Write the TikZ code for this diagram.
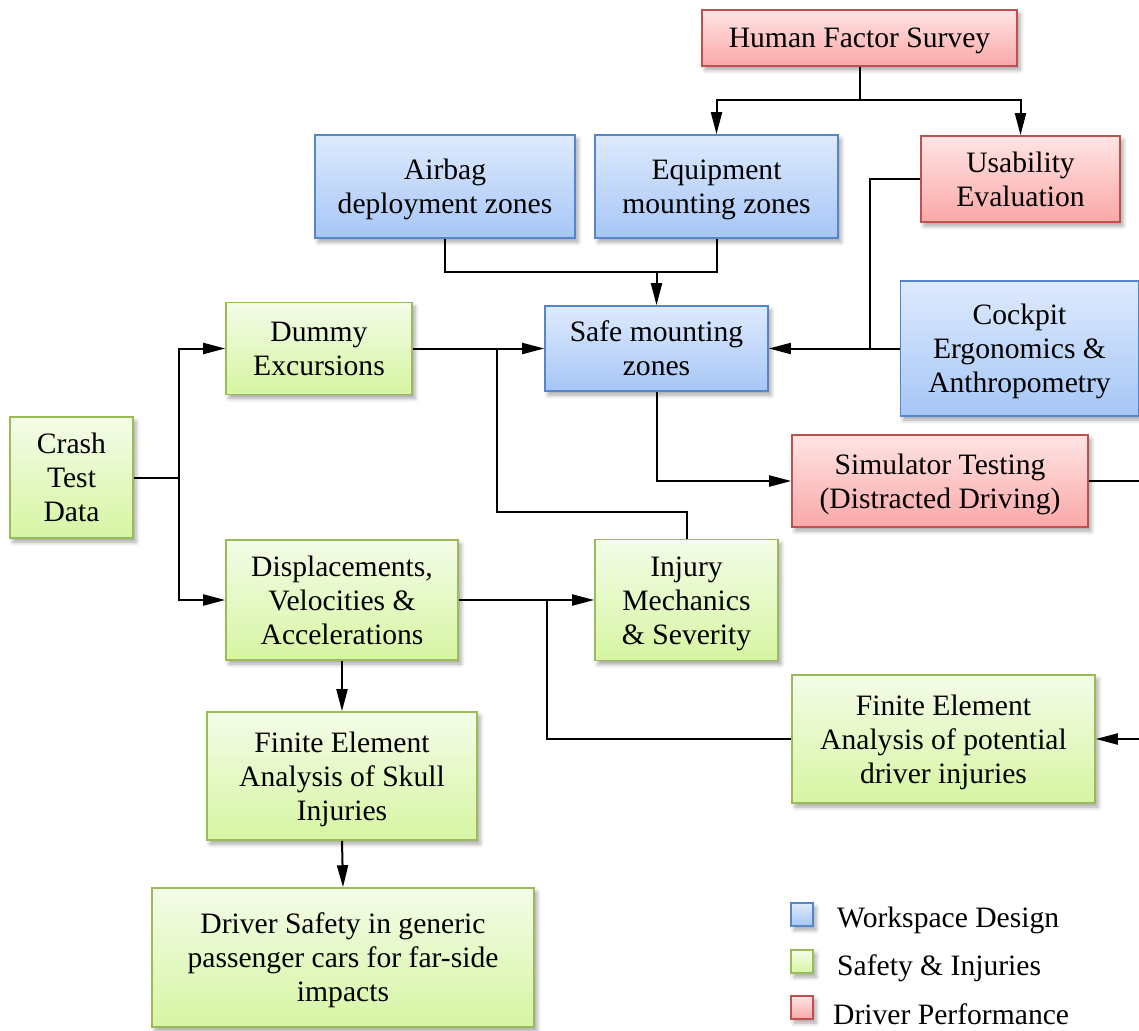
\documentclass[tikz,border=0pt]{standalone}
\usepackage{fontspec}
\setmainfont{Liberation Serif}
\usetikzlibrary{arrows.meta,shadows.blur}

\definecolor{bluetop}{RGB}{222,234,253}
\definecolor{bluebot}{RGB}{166,198,246}
\definecolor{blueline}{RGB}{84,134,201}
\definecolor{greentop}{RGB}{244,252,232}
\definecolor{greenbot}{RGB}{214,245,162}
\definecolor{greenline}{RGB}{155,187,89}
\definecolor{redtop}{RGB}{255,228,228}
\definecolor{redbot}{RGB}{250,168,168}
\definecolor{redline}{RGB}{192,80,77}

\newcommand\boxfont{\fontsize{29.6}{34}\selectfont}
% full ascender height for the first line of a box text
\newcommand\ts{\rule{0pt}{26.4pt}}

\tikzset{
  box/.style={rectangle, inner sep=0pt, line width=1.6pt, align=center,
    font=\boxfont,
    % full descender depth below the last line
    execute at end node={\rule[-6.4pt]{0pt}{6.4pt}},
    blur shadow={shadow xshift=3pt, shadow yshift=-4pt,
                 shadow blur radius=4pt, shadow opacity=35}},
  wsbox/.style={box, draw=blueline, top color=bluetop, bottom color=bluebot},
  sibox/.style={box, draw=greenline, top color=greentop, bottom color=greenbot},
  dpbox/.style={box, draw=redline, top color=redtop, bottom color=redbot},
  legbox/.style={rectangle, inner sep=0pt, line width=1.6pt,
    minimum width=22pt, minimum height=23pt,
    blur shadow={shadow xshift=3pt, shadow yshift=-4pt,
                 shadow blur radius=4pt, shadow opacity=35}},
  link/.style={line width=2pt, draw=black},
  arr/.style={link, -{Triangle[length=22pt,width=11pt]}},
  legtext/.style={anchor=west, inner sep=0pt, font=\boxfont},
}

\begin{document}
\begin{tikzpicture}[x=1pt,y=-1pt]
\useasboundingbox (0,0) rectangle (1139,1030);

% boxes
\node[dpbox, minimum width=315pt, minimum height=56pt]  (hfs)    at (859.5,38)    {\ts Human Factor Survey};
\node[wsbox, minimum width=260pt, minimum height=103pt] (airbag) at (445,186.5)   {\ts Airbag\\deployment zones};
\node[wsbox, minimum width=243pt, minimum height=103pt] (equip)  at (716.5,186.5) {\ts Equipment\\mounting zones};
\node[dpbox, minimum width=199pt, minimum height=86pt]  (usab)   at (1020.5,179)  {\ts Usability\\Evaluation};
\node[wsbox, minimum width=223pt, minimum height=85pt]  (safe)   at (656.5,348.5) {\ts Safe mounting\\zones};
\node[wsbox, minimum width=238pt, minimum height=135pt] (cockpit) at (1019.5,348.5) {\ts Cockpit\\Ergonomics \&\\Anthropometry};
\node[dpbox, minimum width=296pt, minimum height=92pt]  (sim)    at (940,481)     {\ts Simulator Testing\\(Distracted Driving)};
\node[sibox, minimum width=186pt, minimum height=92pt]  (dummy)  at (319,348.5)   {\ts Dummy\\Excursions};
\node[sibox, minimum width=123pt, minimum height=121pt] (crash)  at (71.5,477.5)  {\ts Crash\\Test\\Data};
\node[sibox, minimum width=232pt, minimum height=120pt] (disp)   at (342,600)     {\ts Displacements,\\Velocities \&\\Accelerations};
\node[sibox, minimum width=183pt, minimum height=121pt] (injury) at (686.5,600)   {\ts Injury\\Mechanics\\\& Severity};
\node[sibox, minimum width=303pt, minimum height=128pt] (fep)    at (943.5,739)   {\ts Finite Element\\Analysis of potential\\driver injuries};
\node[sibox, minimum width=270pt, minimum height=128pt] (skull)  at (342,776)     {\ts Finite Element\\Analysis of Skull\\Injuries};
\node[sibox, minimum width=382pt, minimum height=139pt] (dsafe)  at (343,957.5)   {\ts Driver Safety in generic\\passenger cars for far-side\\impacts};

% bend points of the connectors
\coordinate (hsplit) at (859.5,100);
\coordinate (zjoin)  at (656.5,272);
\coordinate (ubend)  at (870,348.5);
\coordinate (ibend)  at (497,512);
\coordinate (cfork)  at (179,477.5);
\coordinate (fbend)  at (547,600);
\coordinate (simout) at (1139,481);
\coordinate (fepin)  at (1139,739);

% connectors
\draw[link] (hfs.south) -- (hsplit);
\draw[arr] (hsplit) -| (equip.north);
\draw[arr] (hsplit) -| (usab.north);

\draw[link] (airbag.south) |- (zjoin) -| (equip.south);
\draw[arr] (zjoin) -- (safe.north);

\draw[link] (usab.west) -| (ubend);
\draw[arr] (cockpit.west) -- (safe.east);

\draw[arr] (dummy.east) -- (safe.west);
\draw[link] (injury.north) |- (ibend) -- (ibend |- dummy.east);

\draw[arr] (safe.south) |- (sim.west);
\draw[link] (sim.east) -- (simout);

\draw[link] (crash.east) -- (cfork);
\draw[arr] (cfork) |- (dummy.west);
\draw[arr] (cfork) |- (disp.west);

\draw[arr] (disp.east) -- (injury.west);
\draw[link] (fep.west) -| (fbend);
\draw[arr] (fepin) -- (fep.east);

\draw[arr] (disp.south) -- (skull.north);
\draw[arr] (skull.south) -- (dsafe.north);

% legend
\node[legbox, draw=blueline, top color=bluetop, bottom color=bluebot]   (lws) at (802,914.5) {};
\node[legbox, draw=greenline, top color=greentop, bottom color=greenbot] (lsi) at (802,961.5) {};
\node[legbox, draw=redline, top color=redtop, bottom color=redbot]       (ldp) at (802,1007.5) {};
\node[legtext] (tws) at (837,920) {Workspace Design};
\node[legtext] (tsi) at (837,968.5) {Safety \& Injuries};
\node[legtext] (tdp) at (833,1014) {Driver Performance};
\end{tikzpicture}
\end{document}
